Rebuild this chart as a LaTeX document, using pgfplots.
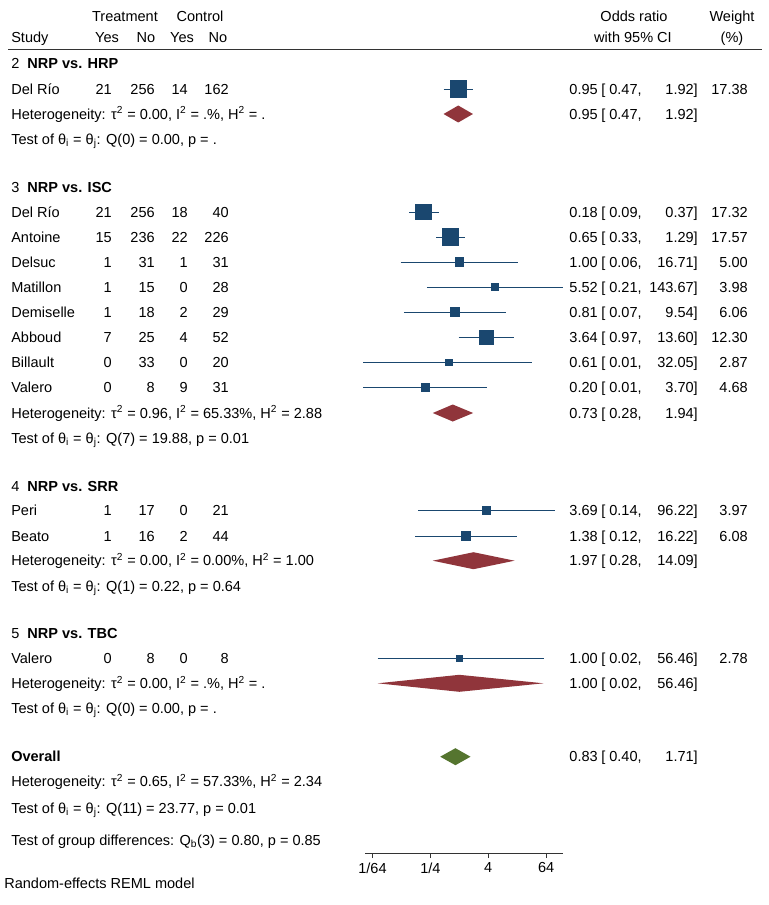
\documentclass[border=0pt]{standalone}
\usepackage{fontspec}
\setmainfont{Liberation Sans}
\usepackage{pgfplots}
\pgfplotsset{compat=1.18}
\definecolor{navyc}{RGB}{26,71,111}
\definecolor{maroonc}{RGB}{144,53,59}
\definecolor{greenc}{RGB}{85,117,47}
\newcommand{\fs}{\fontsize{10.9}{12.5}\selectfont}
\tikzset{tx/.style={font=\fs, inner sep=0pt, text height=7.8pt, text depth=0pt},
  L/.style={tx,anchor=west}, R/.style={tx,anchor=east}, C/.style={tx,anchor=center}}
\newcommand{\Row}[6]{%
  \node[L] at (11,#1) {#2};
  \node[R] at (112,#1) {#3}; \node[R] at (155,#1) {#4};
  \node[R] at (188,#1) {#5}; \node[R] at (229,#1) {#6};}
\newcommand{\CI}[5]{%
  \node[R] at (598,#1) {#2}; \node[L] at (601,#1) {[ #3,};
  \node[R] at (698,#1) {#4]}; \node[R] at (748,#1) {#5};}
\newcommand{\Het}[2]{\node[L] at (11,#1) {Heterogeneity: τ\textsuperscript{2} = #2};}
\newcommand{\Tst}[2]{\node[L] at (11,#1) {Test of θ\textsubscript{i} = θ\textsubscript{j}: #2};}
\begin{document}
\begin{tikzpicture}[x=0.75pt,y=-0.75pt]
\path[use as bounding box] (0,0) rectangle (768,905);
\begin{axis}[
  anchor=north west, at={(273.75pt,0pt)},
  scale only axis, width=148.5pt, height=639.75pt,
  xmode=log, log basis x=2, xmin=0.0109, xmax=143.67,
  ymin=-853, ymax=0,
  axis x line*=bottom, axis y line=none,
  axis line style={-},
  x axis line style={-, line width=0.6pt, draw=black!80},
  xtick={0.015625,0.25,4,64}, xticklabels={1/64,1/4,4,64},
  minor x tick num=0,
  tick align=outside, major tick length=3.75pt,
  xtick style={black!80, line width=0.6pt},
  tick label style={font=\fs},
  clip=false,
  unbounded coords=jump,
]
% confidence interval segments (x, y); nan separates studies
\addplot[navyc, line width=0.7pt] table {
x y
0.47 -89
1.92 -89
nan nan
0.09 -212
0.37 -212
nan nan
0.33 -237
1.29 -237
nan nan
0.06 -262
16.71 -262
nan nan
0.21 -287
143.67 -287
nan nan
0.07 -312
9.54 -312
nan nan
0.97 -337.5
13.60 -337.5
nan nan
0.01 -362.5
32.05 -362.5
nan nan
0.01 -387.5
3.70 -387.5
nan nan
0.14 -510.5
96.22 -510.5
nan nan
0.12 -536
16.22 -536
nan nan
0.02 -658.3
56.46 -658.3
};
% study estimates, square area proportional to weight
\addplot[only marks, mark=square*, scatter,
  scatter/use mapped color={draw=navyc,fill=navyc},
  mark options={line width=0pt},
  visualization depends on={1.44*sqrt(\thisrow{w}) \as \msz},
  scatter/@pre marker code/.append style={/tikz/mark size=\msz pt}]
  table {
or y w
0.95 -89 17.38
0.18 -212 17.32
0.65 -237 17.57
1.00 -262 5.00
5.52 -287 3.98
0.81 -312 6.06
3.64 -337.5 12.30
0.61 -362.5 2.87
0.20 -387.5 4.68
3.69 -510.5 3.97
1.38 -536 6.08
1.00 -658.3 2.78
};
% subgroup and overall diamonds
\addplot[fill=maroonc, draw=none] coordinates {(0.47,-114) (0.95,-105.5) (1.92,-114) (0.95,-122.5)} -- cycle;
\addplot[fill=maroonc, draw=none] coordinates {(0.28,-413) (0.73,-404.5) (1.94,-413) (0.73,-421.5)} -- cycle;
\addplot[fill=maroonc, draw=none] coordinates {(0.28,-560.7) (1.97,-552.2) (14.09,-560.7) (1.97,-569.2)} -- cycle;
\addplot[fill=maroonc, draw=none] coordinates {(0.02,-683.3) (1.00,-674.8) (56.46,-683.3) (1.00,-691.8)} -- cycle;
\addplot[fill=greenc, draw=none] coordinates {(0.40,-756.7) (0.83,-748.2) (1.71,-756.7) (0.83,-765.2)} -- cycle;
\end{axis}
% header
\node[C] at (125,16) {Treatment};
\node[C] at (200,16) {Control};
\node[L] at (11,37.5) {Study};
\node[C] at (107,37.5) {Yes}; \node[C] at (146,37.5) {No};
\node[C] at (182,37.5) {Yes}; \node[C] at (218,37.5) {No};
\node[C] at (634,16) {Odds ratio};
\node[C] at (633,37.5) {with 95\% CI};
\node[C] at (732,16) {Weight};
\node[C] at (732,37.5) {(\%)};
\draw[black!80, line width=0.75pt] (8,49.5) -- (762,49.5);
% group 2
\node[L] at (11,63.5) {2\ \ \textbf{NRP vs. HRP}};
\Row{89}{Del Río}{21}{256}{14}{162} \CI{89}{0.95}{0.47}{1.92}{17.38}
\Het{114}{0.00, I\textsuperscript{2} = .\%, H\textsuperscript{2} = .}
\CI{114}{0.95}{0.47}{1.92}{}
\Tst{139}{Q(0) = 0.00, p = .}
% group 3
\node[L] at (11,187) {3\ \ \textbf{NRP vs. ISC}};
\Row{212}{Del Río}{21}{256}{18}{40} \CI{212}{0.18}{0.09}{0.37}{17.32}
\Row{237}{Antoine}{15}{236}{22}{226} \CI{237}{0.65}{0.33}{1.29}{17.57}
\Row{262}{Delsuc}{1}{31}{1}{31} \CI{262}{1.00}{0.06}{16.71}{5.00}
\Row{287}{Matillon}{1}{15}{0}{28} \CI{287}{5.52}{0.21}{143.67}{3.98}
\Row{312}{Demiselle}{1}{18}{2}{29} \CI{312}{0.81}{0.07}{9.54}{6.06}
\Row{337.5}{Abboud}{7}{25}{4}{52} \CI{337.5}{3.64}{0.97}{13.60}{12.30}
\Row{362.5}{Billault}{0}{33}{0}{20} \CI{362.5}{0.61}{0.01}{32.05}{2.87}
\Row{387.5}{Valero}{0}{8}{9}{31} \CI{387.5}{0.20}{0.01}{3.70}{4.68}
\Het{413}{0.96, I\textsuperscript{2} = 65.33\%, H\textsuperscript{2} = 2.88}
\CI{413}{0.73}{0.28}{1.94}{}
\Tst{438}{Q(7) = 19.88, p = 0.01}
% group 4
\node[L] at (11,486) {4\ \ \textbf{NRP vs. SRR}};
\Row{510.5}{Peri}{1}{17}{0}{21} \CI{510.5}{3.69}{0.14}{96.22}{3.97}
\Row{536}{Beato}{1}{16}{2}{44} \CI{536}{1.38}{0.12}{16.22}{6.08}
\Het{560.7}{0.00, I\textsuperscript{2} = 0.00\%, H\textsuperscript{2} = 1.00}
\CI{560.7}{1.97}{0.28}{14.09}{}
\Tst{586}{Q(1) = 0.22, p = 0.64}
% group 5
\node[L] at (11,633) {5\ \ \textbf{NRP vs. TBC}};
\Row{658.3}{Valero}{0}{8}{0}{8} \CI{658.3}{1.00}{0.02}{56.46}{2.78}
\Het{683.3}{0.00, I\textsuperscript{2} = .\%, H\textsuperscript{2} = .}
\CI{683.3}{1.00}{0.02}{56.46}{}
\Tst{708.3}{Q(0) = 0.00, p = .}
% overall
\node[L] at (11,756.7) {\textbf{Overall}};
\CI{756.7}{0.83}{0.40}{1.71}{}
\Het{781.7}{0.65, I\textsuperscript{2} = 57.33\%, H\textsuperscript{2} = 2.34}
\Tst{808}{Q(11) = 23.77, p = 0.01}
\node[L] at (11,840) {Test of group differences: Q\textsubscript{b}(3) = 0.80, p = 0.85};
\node[L] at (4,883.3) {Random-effects REML model};
\end{tikzpicture}
\end{document}
